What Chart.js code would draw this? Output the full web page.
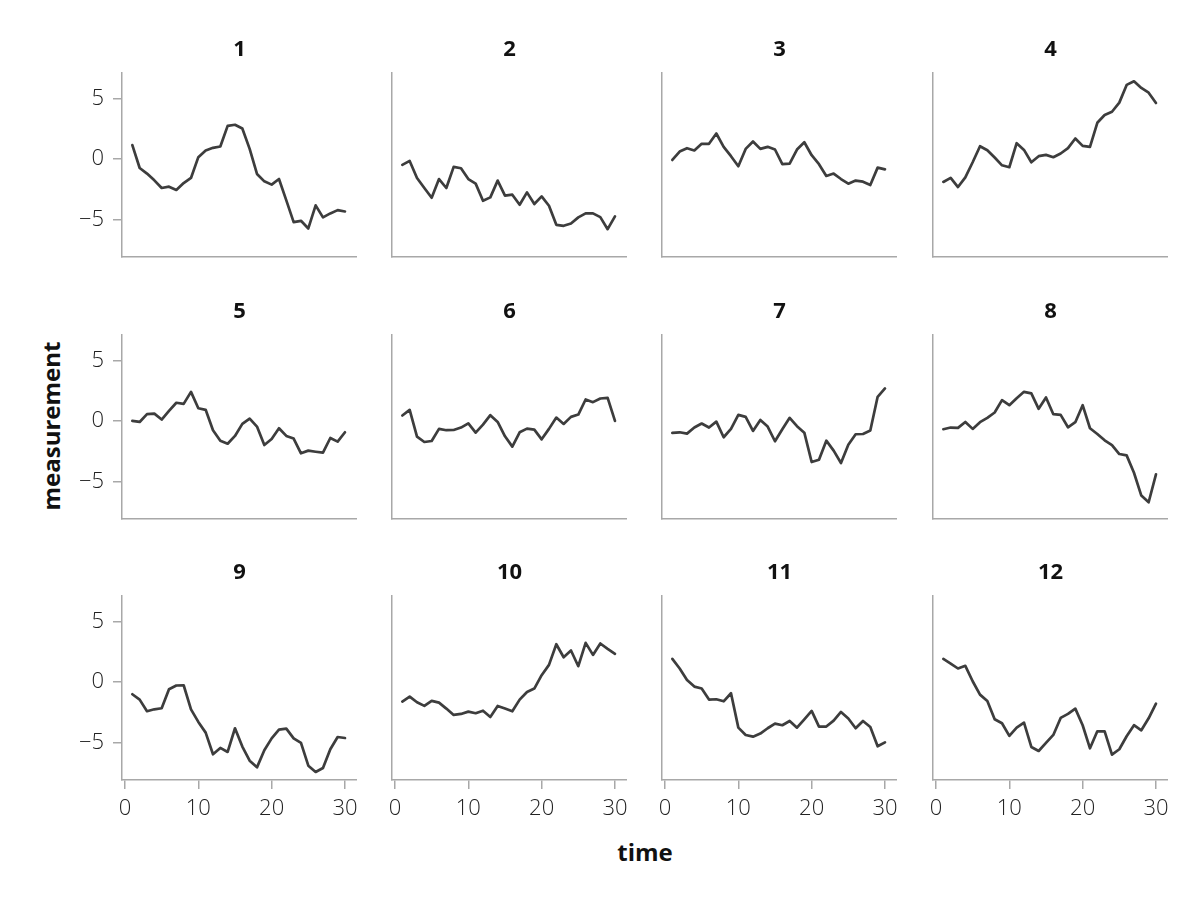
<!DOCTYPE html>
<html>
<head>
<meta charset="utf-8">
<script src="https://cdn.jsdelivr.net/npm/chart.js@4.4.1/dist/chart.umd.min.js"></script>
<style>
  body { margin: 0; background: #fff; }
  #wrap { position: relative; width: 1200px; height: 900px; overflow: hidden; }
  #wrap canvas { position: absolute; }
  .lab { position: absolute; font-family: "Open Sans", sans-serif; font-weight: 700; font-size: 24px; color: #111; white-space: nowrap; }
</style>
</head>
<body>
<div id="wrap">
  <div class="lab" id="ylab">measurement</div>
  <div class="lab" id="xlab">time</div>
</div>
<script>
const times = [1, 2, 3, 4, 5, 6, 7, 8, 9, 10, 11, 12, 13, 14, 15, 16, 17, 18, 19, 20, 21, 22, 23, 24, 25, 26, 27, 28, 29, 30];
const panelNames = ['1', '2', '3', '4', '5', '6', '7', '8', '9', '10', '11', '12'];
const yTicks = [-5, 0, 5];
const xTicks = [0, 10, 20, 30];

const s1 = [1.16, -0.72, -1.18, -1.74, -2.37, -2.26, -2.53, -1.96, -1.54, 0.17, 0.72, 0.94, 1.05, 2.75, 2.84, 2.53, 0.85, -1.21, -1.82, -2.09, -1.63, -3.39, -5.18, -5.07, -5.70, -3.80, -4.79, -4.46, -4.19, -4.30];
const s2 = [-0.47, -0.14, -1.54, -2.37, -3.17, -1.63, -2.37, -0.63, -0.74, -1.63, -2.01, -3.42, -3.14, -1.76, -3.00, -2.92, -3.75, -2.73, -3.69, -3.06, -3.83, -5.40, -5.48, -5.29, -4.79, -4.46, -4.46, -4.77, -5.76, -4.71];
const s3 = [-0.06, 0.63, 0.91, 0.72, 1.27, 1.27, 2.12, 1.02, 0.25, -0.58, 0.85, 1.46, 0.85, 1.02, 0.80, -0.41, -0.36, 0.80, 1.40, 0.33, -0.41, -1.38, -1.18, -1.63, -2.01, -1.76, -1.85, -2.12, -0.69, -0.83];
const s4 = [-1.87, -1.54, -2.29, -1.49, -0.25, 1.07, 0.74, 0.14, -0.50, -0.66, 1.32, 0.77, -0.25, 0.25, 0.36, 0.17, 0.47, 0.91, 1.71, 1.10, 1.02, 3.00, 3.64, 3.91, 4.66, 6.12, 6.42, 5.87, 5.48, 4.63];
const s5 = [0.03, -0.06, 0.58, 0.63, 0.14, 0.85, 1.52, 1.43, 2.42, 1.07, 0.94, -0.74, -1.60, -1.85, -1.21, -0.22, 0.22, -0.44, -1.96, -1.46, -0.58, -1.21, -1.43, -2.64, -2.42, -2.51, -2.59, -1.38, -1.68, -0.91];
const s6 = [0.47, 0.94, -1.27, -1.71, -1.63, -0.63, -0.74, -0.72, -0.52, -0.17, -0.94, -0.28, 0.50, -0.06, -1.24, -2.09, -0.91, -0.61, -0.69, -1.49, -0.63, 0.30, -0.22, 0.36, 0.55, 1.79, 1.57, 1.87, 1.93, 0.03];
const s7 = [-0.96, -0.91, -1.02, -0.52, -0.19, -0.52, -0.03, -1.32, -0.63, 0.52, 0.36, -0.80, 0.11, -0.44, -1.65, -0.66, 0.28, -0.41, -0.94, -3.36, -3.17, -1.60, -2.42, -3.44, -1.93, -1.07, -1.05, -0.77, 2.01, 2.70];
const s8 = [-0.66, -0.52, -0.55, -0.06, -0.63, -0.08, 0.28, 0.72, 1.74, 1.32, 1.90, 2.42, 2.29, 1.02, 1.96, 0.58, 0.52, -0.50, -0.08, 1.32, -0.58, -1.05, -1.57, -1.96, -2.70, -2.81, -4.24, -6.12, -6.67, -4.38];
const s9 = [-0.99, -1.43, -2.39, -2.23, -2.14, -0.58, -0.27, -0.25, -2.23, -3.27, -4.15, -5.93, -5.41, -5.74, -3.79, -5.30, -6.46, -7.01, -5.60, -4.62, -3.90, -3.82, -4.62, -5.00, -6.87, -7.39, -7.06, -5.52, -4.51, -4.59];
const s10 = [-1.59, -1.18, -1.65, -1.95, -1.54, -1.68, -2.17, -2.69, -2.61, -2.42, -2.55, -2.34, -2.86, -1.95, -2.17, -2.39, -1.43, -0.80, -0.52, 0.58, 1.43, 3.13, 2.06, 2.61, 1.32, 3.24, 2.25, 3.19, 2.75, 2.34];
const s11 = [1.92, 1.13, 0.19, -0.36, -0.52, -1.43, -1.40, -1.57, -0.91, -3.74, -4.34, -4.48, -4.23, -3.79, -3.41, -3.54, -3.19, -3.74, -3.05, -2.36, -3.65, -3.65, -3.16, -2.45, -2.99, -3.79, -3.19, -3.68, -5.27, -4.95];
const s12 = [1.92, 1.54, 1.13, 1.35, 0.08, -1.02, -1.54, -3.05, -3.38, -4.42, -3.74, -3.32, -5.33, -5.66, -5.00, -4.34, -2.94, -2.61, -2.17, -3.54, -5.44, -4.04, -4.04, -5.96, -5.52, -4.45, -3.54, -3.96, -2.97, -1.76];
const series = [s1, s2, s3, s4, s5, s6, s7, s8, s9, s10, s11, s12];

// panel geometry (plot area in page pixels)
const colLeft = [122, 392, 662, 933];
const rowTop = [73, 335, 596];
const plotW = 235, plotH = 184;
const yAxisW = 100, titleH = 40, xAxisH = 60;

const axisGray = '#a8a8a8';
const tickFont = { family: '"Open Sans", sans-serif', size: 22, weight: '300' };
const fmt = v => (v < 0 ? '\u2212' + Math.abs(v) : String(v));

const wrap = document.getElementById('wrap');

series.forEach((vals, i) => {
  const col = i % 4, row = Math.floor(i / 4);
  const showY = col === 0;
  const showX = row === 2;

  const cv = document.createElement('canvas');
  cv.width = yAxisW + plotW;
  cv.height = titleH + plotH + xAxisH;
  cv.style.left = (colLeft[col] - yAxisW) + 'px';
  cv.style.top = (rowTop[row] - titleH) + 'px';
  wrap.appendChild(cv);

  new Chart(cv.getContext('2d'), {
    type: 'line',
    data: {
      datasets: [{
        data: times.map((t, k) => ({ x: t, y: vals[k] })),
        borderColor: '#3d3d3d',
        borderWidth: 2.7,
        pointRadius: 0,
        tension: 0,
        borderJoinStyle: 'round',
        borderCapStyle: 'round'
      }]
    },
    options: {
      responsive: false,
      animation: false,
      devicePixelRatio: 1,
      layout: { padding: 0 },
      plugins: {
        legend: { display: false },
        tooltip: { enabled: false },
        title: {
          display: true,
          text: panelNames[i],
          fullSize: false,
          color: '#111',
          font: { family: '"Open Sans", sans-serif', size: 22, weight: '700', lineHeight: 1.2 },
          padding: { top: 4, bottom: 9.6 }
        }
      },
      scales: {
        x: {
          type: 'linear',
          min: -0.41,
          max: 31.64,
          afterBuildTicks: s => { s.ticks = xTicks.map(v => ({ value: v })); },
          afterFit: s => { s.height = xAxisH; s.paddingLeft = 0; s.paddingRight = 0; },
          grid: { display: showX, drawOnChartArea: false, drawTicks: true, tickLength: 9, color: axisGray, lineWidth: 1.5 },
          border: { display: true, color: axisGray, width: 1.5 },
          ticks: { display: showX, padding: 7, color: '#222', font: tickFont, maxRotation: 0, callback: fmt }
        },
        y: {
          min: -8.05,
          max: 7.1,
          afterBuildTicks: s => { s.ticks = yTicks.map(v => ({ value: v })); },
          afterFit: s => { s.width = yAxisW; s.paddingTop = 0; s.paddingBottom = 0; },
          grid: { display: showY, drawOnChartArea: false, drawTicks: true, tickLength: 9, color: axisGray, lineWidth: 1.5 },
          border: { display: true, color: axisGray, width: 1.5 },
          ticks: { display: showY, padding: 9, color: '#222', font: tickFont, callback: fmt }
        }
      }
    }
  });
});

// shared axis labels
const ylab = document.getElementById('ylab');
ylab.style.left = '50px';
ylab.style.top = '426px';
ylab.style.transform = 'translate(-50%, -50%) rotate(-90deg)';
const xlab = document.getElementById('xlab');
xlab.style.left = '645px';
xlab.style.top = '851px';
xlab.style.transform = 'translate(-50%, -50%)';
</script>
</body>
</html>
